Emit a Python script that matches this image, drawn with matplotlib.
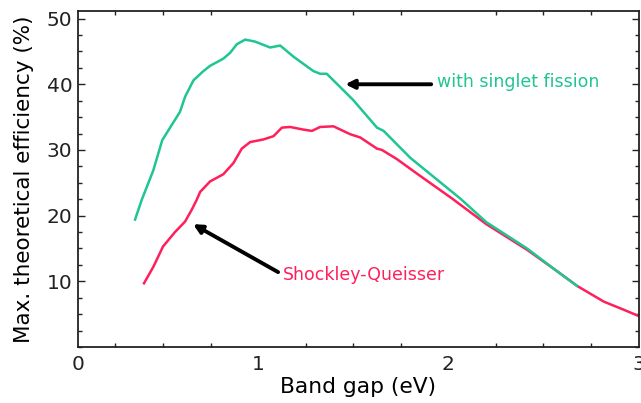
import matplotlib
matplotlib.use("Agg")
import matplotlib.pyplot as plt
from matplotlib.ticker import MultipleLocator

# Data (band gap in eV, efficiency in %)
sf_gap = [0.353, 0.388, 0.449, 0.496, 0.589, 0.616, 0.66, 0.712, 0.747, 0.817, 0.853,
          0.888, 0.932, 0.984, 1.063, 1.116, 1.186, 1.291, 1.326, 1.361, 1.50, 1.625,
          1.66, 1.80, 2.063, 2.20, 2.414, 2.55, 2.677]
sf_eff = [19.4, 22.4, 26.9, 31.5, 35.8, 38.1, 40.6, 42.0, 42.8, 43.9, 44.8,
          46.1, 46.8, 46.5, 45.6, 45.9, 44.2, 42.0, 41.6, 41.6, 37.6, 33.4,
          32.9, 28.8, 22.6, 19.0, 15.0, 12.0, 9.3]

sq_gap = [0.40, 0.449, 0.50, 0.563, 0.616, 0.651, 0.677, 0.695, 0.747, 0.817, 0.87,
          0.914, 0.958, 1.028, 1.081, 1.125, 1.168, 1.238, 1.283, 1.326, 1.396,
          1.484, 1.537, 1.625, 1.651, 1.73, 1.835, 2.02, 2.20, 2.414, 2.55, 2.677,
          2.818, 2.92, 3.01]
sq_eff = [9.7, 12.2, 15.3, 17.5, 19.1, 20.9, 22.4, 23.6, 25.2, 26.3, 28.0,
          30.2, 31.2, 31.6, 32.1, 33.4, 33.5, 33.1, 32.9, 33.5, 33.6,
          32.4, 31.9, 30.2, 30.0, 28.6, 26.4, 22.6, 18.7, 14.8, 12.0, 9.3,
          6.9, 5.7, 4.6]

label_sf = "with singlet fission"
label_sq = "Shockley-Queisser"
x_tick_labels = ["0", "1", "2", "3"]

GREEN = "#1fc592"
RED = "#ff1f5a"

fig = plt.figure(figsize=(6.41, 4.03), dpi=100)
ax = fig.add_axes([0.1217, 0.139, 0.8744, 0.8344])

ax.plot(sq_gap, sq_eff, color=RED, lw=1.8)
ax.plot(sf_gap, sf_eff, color=GREEN, lw=1.8)

xmin, xmax = 0.053, 3.0
ax.set_xlim(xmin, xmax)
ax.set_ylim(0, 51.2)
ax.set_xticks([xmin, 1, 2, 3], x_tick_labels)
ax.xaxis.set_minor_locator(MultipleLocator(0.25))
ax.set_yticks([10, 20, 30, 40, 50])
ax.yaxis.set_minor_locator(MultipleLocator(2.5))
ax.tick_params(which="both", direction="in", top=True, right=True,
               labelsize=14.5, width=1.0, colors="#222222")
ax.tick_params(which="major", length=5, pad=4)
ax.tick_params(which="minor", length=3)
ax.tick_params(axis="x", which="major", length=0, pad=6)
for s in ax.spines.values():
    s.set_linewidth(1.3)
    s.set_color("#222222")

ax.set_xlabel("Band gap (eV)", fontsize=15.7, labelpad=2)
ax.set_ylabel("Max. theoretical efficiency (%)", fontsize=15.5, labelpad=9)

ax.annotate("", xy=(1.458, 40.0), xytext=(1.91, 40.0),
            arrowprops=dict(arrowstyle="-|>", lw=2.8, color="black",
                            mutation_scale=13, shrinkA=0, shrinkB=0))
ax.text(1.942, 40.3, label_sf, color=GREEN, fontsize=12.5, va="center", ha="left")

ax.annotate("", xy=(0.658, 18.7), xytext=(1.105, 11.4),
            arrowprops=dict(arrowstyle="-|>", lw=2.8, color="black",
                            mutation_scale=13, shrinkA=0, shrinkB=0))
ax.text(1.132, 11.0, label_sq, color=RED, fontsize=12.5, va="center", ha="left")

fig.savefig("out.png", dpi=100)
